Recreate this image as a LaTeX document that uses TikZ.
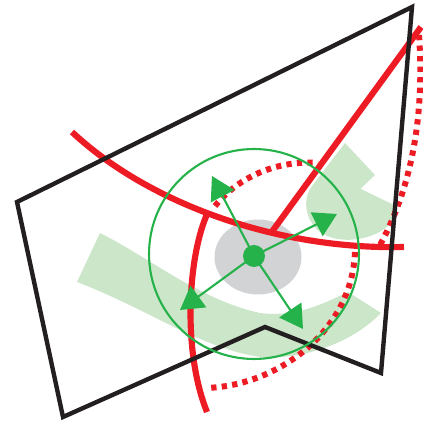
\documentclass[tikz,border=0pt]{standalone}
\usepackage{xcolor}
\usepackage{tikz}
\usetikzlibrary{arrows.meta}

\definecolor{mapred}{HTML}{ED1C24}
\definecolor{mapgreen}{HTML}{25B24A}
\definecolor{palegreen}{HTML}{CCE6CA}
\definecolor{coregray}{HTML}{D1D3D4}
\definecolor{edgeblack}{HTML}{231F20}

\begin{document}
\begin{tikzpicture}[
  x=0.02cm,y=-0.02cm,
  zone/.style  ={fill=palegreen,draw=none},
  road/.style  ={draw=mapred,line width=3.5pt},
  track/.style ={draw=mapred,line width=3.4pt,dash pattern=on 3pt off 3pt},
  border/.style={draw=edgeblack,line width=2.5pt,line join=miter},
  reach/.style ={draw=mapgreen,line width=1.2pt},
  push/.style  ={-{Triangle[length=13pt,width=15pt]},draw=mapgreen,fill=mapgreen,line width=1.2pt},
  hub/.style   ={circle,fill=mapgreen,minimum size=0.44cm,inner sep=0pt}
]
\useasboundingbox (0,0) rectangle (423,421);
% pale green zones
\path[zone] (100,233) .. controls (150,258) and (200,300) .. (260,313)
  .. controls (300,318) and (330,300) .. (348,292) -- (381,313)
  .. controls (350,345) and (300,360) .. (260,357)
  .. controls (200,348) and (150,310) .. (77,282) -- cycle;
\path[zone] (345,143) -- (375,175) -- (353,196) -- (361,189) -- (396,206) -- (390,224)
  .. controls (375,240) and (340,246) .. (320,232)
  .. controls (305,220) and (302,200) .. (312,186) -- cycle;
% grey core
\fill[coregray] (258,257) ellipse [x radius=0.87cm,y radius=0.75cm];
% red roads, solid and dotted
\path[road] (72,132) .. controls (150,205) and (280,250) .. (404,247);
\path[road] (271,233) -- (421,27);
\path[road] (208,212) .. controls (188,255) and (182,350) .. (207,412);
\path[track] (215,206) .. controls (240,175) and (280,160) .. (318,163);
\path[track] (419,35) .. controls (425,120) and (410,190) .. (380,245);
\path[track] (355,252) .. controls (352,330) and (280,385) .. (207,388);
% black frame
\draw[border] (17,202) -- (412,7) -- (381,373) -- (265,327) -- (63,417) -- cycle;
% green reach circle and hub
\draw[reach] (254,254) circle [radius=2.1cm];
\node[hub] (hub) at (254,256) {};
\coordinate (nw) at (212,176);
\coordinate (ne) at (337,214);
\coordinate (sw) at (180,310);
\coordinate (se) at (303,329);
\foreach \t in {nw,ne,sw,se}
  \draw[push] (hub.center) -- (\t);
\end{tikzpicture}
\end{document}
